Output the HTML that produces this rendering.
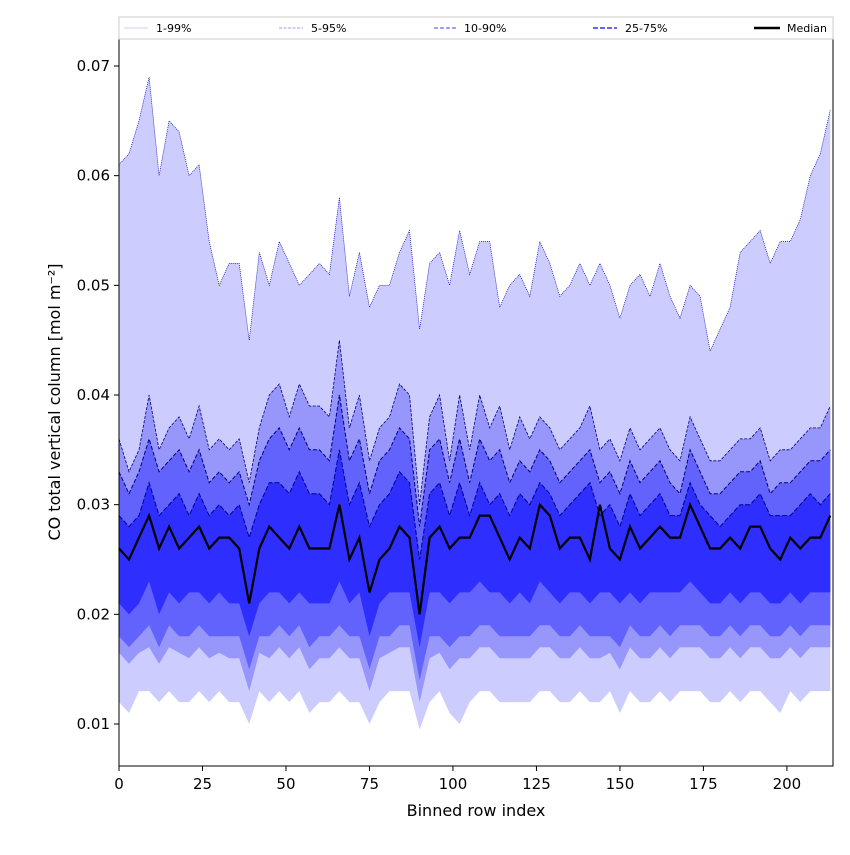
<!DOCTYPE html>
<html><head><meta charset="utf-8"><style>
body{margin:0;background:#fff;font-family:"Liberation Sans","DejaVu Sans",sans-serif}
svg text{font-family:"DejaVu Sans","Liberation Sans",sans-serif}
</style></head><body>
<svg id="chart" width="850" height="850" xmlns="http://www.w3.org/2000/svg">
<rect x="0" y="0" width="850" height="850" fill="#fff"/>
<g id="bands"></g><g id="lines"></g>
<rect x="119" y="39" width="714" height="727" fill="none" stroke="#000" stroke-width="1"/>
<g id="xticks"></g><g id="yticks"></g>
<text x="476" y="816" font-size="16" text-anchor="middle">Binned row index</text>
<text transform="translate(60,402) rotate(-90)" font-size="16" text-anchor="middle">CO total vertical column [mol m⁻²]</text>
<g>
<rect x="119" y="17" width="714" height="22" fill="#fff" stroke="#ccc"/>
<g><line x1="124" y1="28" x2="148" y2="28" stroke="#ccccff" stroke-width="1"/><text x="156" y="32" font-size="11">1-99%</text></g>
<g><line x1="279" y1="28" x2="303" y2="28" stroke="#9999ff" stroke-width="1" stroke-dasharray="3,1.5"/><text x="311" y="32" font-size="11">5-95%</text></g>
<g><line x1="434" y1="28" x2="458" y2="28" stroke="#8080ff" stroke-width="1.4" stroke-dasharray="4,2"/><text x="464" y="32" font-size="11">10-90%</text></g>
<g><line x1="593" y1="28" x2="617" y2="28" stroke="#6666ff" stroke-width="2" stroke-dasharray="5,2"/><text x="625" y="32" font-size="11">25-75%</text></g>
<g><line x1="754" y1="28" x2="780" y2="28" stroke="#000" stroke-width="2.5"/><text x="787" y="32" font-size="11">Median</text></g>
</g>
</svg>
<script>
const step = 3;
const p99=[0.061,0.062,0.065,0.069,0.060,0.065,0.064,0.060,0.061,0.054,0.050,0.052,0.052,0.045,0.053,0.050,0.054,0.052,0.050,0.051,0.052,0.051,0.058,0.049,0.053,0.048,0.050,0.050,0.053,0.055,0.046,0.052,0.053,0.050,0.055,0.051,0.054,0.054,0.048,0.050,0.051,0.049,0.054,0.052,0.049,0.050,0.052,0.050,0.052,0.050,0.047,0.050,0.051,0.049,0.052,0.049,0.047,0.050,0.049,0.044,0.046,0.048,0.053,0.054,0.055,0.052,0.054,0.054,0.056,0.060,0.062,0.066];
const p95=[0.036,0.033,0.035,0.040,0.035,0.037,0.038,0.036,0.039,0.035,0.036,0.035,0.036,0.032,0.037,0.040,0.041,0.038,0.041,0.039,0.039,0.038,0.045,0.037,0.040,0.034,0.037,0.038,0.041,0.040,0.030,0.038,0.040,0.034,0.040,0.035,0.040,0.037,0.039,0.035,0.038,0.036,0.038,0.037,0.035,0.036,0.037,0.039,0.035,0.036,0.034,0.037,0.035,0.036,0.037,0.035,0.034,0.038,0.036,0.034,0.034,0.035,0.036,0.036,0.037,0.034,0.035,0.035,0.036,0.037,0.037,0.039];
const p90=[0.033,0.031,0.033,0.036,0.033,0.034,0.035,0.033,0.035,0.032,0.033,0.032,0.033,0.030,0.034,0.036,0.037,0.035,0.037,0.035,0.035,0.034,0.040,0.034,0.036,0.031,0.034,0.035,0.037,0.036,0.028,0.035,0.036,0.032,0.036,0.032,0.036,0.034,0.035,0.032,0.034,0.033,0.035,0.034,0.032,0.033,0.034,0.035,0.032,0.033,0.031,0.034,0.032,0.033,0.034,0.032,0.031,0.035,0.033,0.031,0.031,0.032,0.033,0.033,0.034,0.031,0.032,0.032,0.033,0.034,0.034,0.035];
const p75=[0.029,0.028,0.029,0.032,0.029,0.030,0.031,0.029,0.031,0.029,0.030,0.029,0.030,0.027,0.030,0.032,0.032,0.031,0.033,0.031,0.031,0.030,0.035,0.030,0.032,0.028,0.030,0.031,0.033,0.032,0.025,0.031,0.032,0.029,0.032,0.029,0.032,0.030,0.031,0.029,0.031,0.030,0.032,0.031,0.029,0.030,0.031,0.032,0.029,0.030,0.028,0.031,0.029,0.030,0.031,0.029,0.029,0.032,0.030,0.029,0.028,0.029,0.030,0.030,0.031,0.029,0.029,0.029,0.030,0.031,0.030,0.031];
const p50=[0.026,0.025,0.027,0.029,0.026,0.028,0.026,0.027,0.028,0.026,0.027,0.027,0.026,0.021,0.026,0.028,0.027,0.026,0.028,0.026,0.026,0.026,0.030,0.025,0.027,0.022,0.025,0.026,0.028,0.027,0.020,0.027,0.028,0.026,0.027,0.027,0.029,0.029,0.027,0.025,0.027,0.026,0.030,0.029,0.026,0.027,0.027,0.025,0.030,0.026,0.025,0.028,0.026,0.027,0.028,0.027,0.027,0.030,0.028,0.026,0.026,0.027,0.026,0.028,0.028,0.026,0.025,0.027,0.026,0.027,0.027,0.029];
const p25=[0.021,0.020,0.021,0.023,0.020,0.022,0.021,0.022,0.022,0.021,0.022,0.021,0.021,0.018,0.021,0.022,0.022,0.021,0.022,0.021,0.021,0.021,0.023,0.021,0.022,0.018,0.021,0.022,0.022,0.022,0.017,0.022,0.022,0.021,0.022,0.022,0.023,0.022,0.022,0.021,0.022,0.021,0.023,0.022,0.021,0.022,0.022,0.021,0.022,0.022,0.021,0.022,0.021,0.022,0.022,0.022,0.022,0.023,0.022,0.021,0.021,0.022,0.021,0.022,0.022,0.021,0.021,0.022,0.021,0.022,0.022,0.022];
const p10=[0.018,0.017,0.018,0.019,0.017,0.019,0.018,0.018,0.019,0.018,0.018,0.018,0.018,0.015,0.018,0.018,0.019,0.018,0.019,0.017,0.018,0.018,0.019,0.018,0.018,0.015,0.018,0.018,0.019,0.019,0.014,0.018,0.018,0.017,0.018,0.018,0.019,0.019,0.018,0.018,0.018,0.018,0.019,0.019,0.018,0.018,0.019,0.018,0.018,0.018,0.017,0.019,0.018,0.018,0.019,0.018,0.019,0.019,0.019,0.018,0.018,0.019,0.018,0.019,0.019,0.018,0.018,0.019,0.018,0.019,0.019,0.019];
const p5=[0.0165,0.0155,0.0165,0.017,0.0155,0.017,0.0165,0.016,0.017,0.016,0.0165,0.016,0.016,0.013,0.0165,0.016,0.017,0.016,0.017,0.015,0.016,0.016,0.017,0.016,0.016,0.013,0.016,0.0165,0.017,0.017,0.012,0.016,0.0165,0.015,0.016,0.016,0.017,0.017,0.016,0.016,0.016,0.016,0.017,0.017,0.016,0.016,0.017,0.016,0.016,0.0165,0.015,0.017,0.016,0.016,0.017,0.016,0.017,0.017,0.017,0.016,0.016,0.017,0.016,0.017,0.017,0.016,0.016,0.017,0.016,0.017,0.017,0.017];
const p1=[0.012,0.011,0.013,0.013,0.012,0.013,0.012,0.012,0.013,0.012,0.013,0.012,0.012,0.010,0.013,0.012,0.013,0.012,0.013,0.011,0.012,0.012,0.013,0.012,0.012,0.010,0.012,0.013,0.013,0.013,0.0095,0.012,0.013,0.011,0.010,0.012,0.013,0.013,0.012,0.012,0.012,0.012,0.013,0.013,0.012,0.012,0.013,0.012,0.012,0.013,0.011,0.013,0.012,0.012,0.013,0.012,0.013,0.013,0.013,0.012,0.012,0.013,0.012,0.013,0.013,0.012,0.011,0.013,0.012,0.013,0.013,0.013];
const xTicks=[0,25,50,75,100,125,150,175,200];
const yTicks=[0.01,0.02,0.03,0.04,0.05,0.06,0.07];

const NS="http://www.w3.org/2000/svg";
const X0=119,X1=833,XMAX=213.8;
const sx=v=>X0+(X1-X0)*v/XMAX;
const Y66=66,Y724=724;
const sy=v=>Y724-(v-0.01)/0.06*(Y724-Y66);
function pts(arr){return arr.map((v,i)=>[sx(Math.min(i*step,213)),sy(v)]);}
function ptsStr(p){return p.map(q=>q[0].toFixed(1)+","+q[1].toFixed(1)).join(" ");}
const bands=document.getElementById('bands'),lines=document.getElementById('lines');
function band(up,lo,fill,name){
  const p=pts(up).concat(pts(lo).reverse());
  const el=document.createElementNS(NS,'polygon');
  el.setAttribute('points',ptsStr(p));el.setAttribute('fill',fill);
  
  
  bands.appendChild(el);
}
band(p99,p1,'#ccccff','band-1-99');
band(p95,p5,'#9696fb','band-5-95');
band(p90,p10,'#6262fd','band-10-90');
band(p75,p25,'#2e2eff','band-25-75');
function line(arr,stroke,w,dash,name){
  const el=document.createElementNS(NS,'polyline');
  el.setAttribute('points',ptsStr(pts(arr)));el.setAttribute('fill','none');
  el.setAttribute('stroke',stroke);el.setAttribute('stroke-width',w);
  if(dash)el.setAttribute('stroke-dasharray',dash);
  
  
  lines.appendChild(el);
}
line(p99,'#0000b0',0.7,'1,1','line-p99');
line(p95,'#000080',0.8,'3,1.5','line-p95');
line(p90,'#00007a',1,'4,2','line-p90');
line(p75,'#000090',1,'5,2','line-p75');
line(p50,'#000',2.2,null,'median-line');
const xt=document.getElementById('xticks');
xTicks.forEach(t=>{
  const g=document.createElementNS(NS,'g');
  
  
  const x=sx(t);
  g.innerHTML=`<line x1="${x}" y1="766" x2="${x}" y2="771" stroke="#000"/><text x="${x}" y="789" font-size="15" text-anchor="middle">${t}</text>`;
  xt.appendChild(g);
});
const yt=document.getElementById('yticks');
yTicks.forEach(t=>{
  const g=document.createElementNS(NS,'g');
  
  
  const y=sy(t);
  g.innerHTML=`<line x1="114" y1="${y}" x2="119" y2="${y}" stroke="#000"/><text x="110" y="${y+5}" font-size="15" text-anchor="end">${t.toFixed(2)}</text>`;
  yt.appendChild(g);
});
</script>
</body></html>
